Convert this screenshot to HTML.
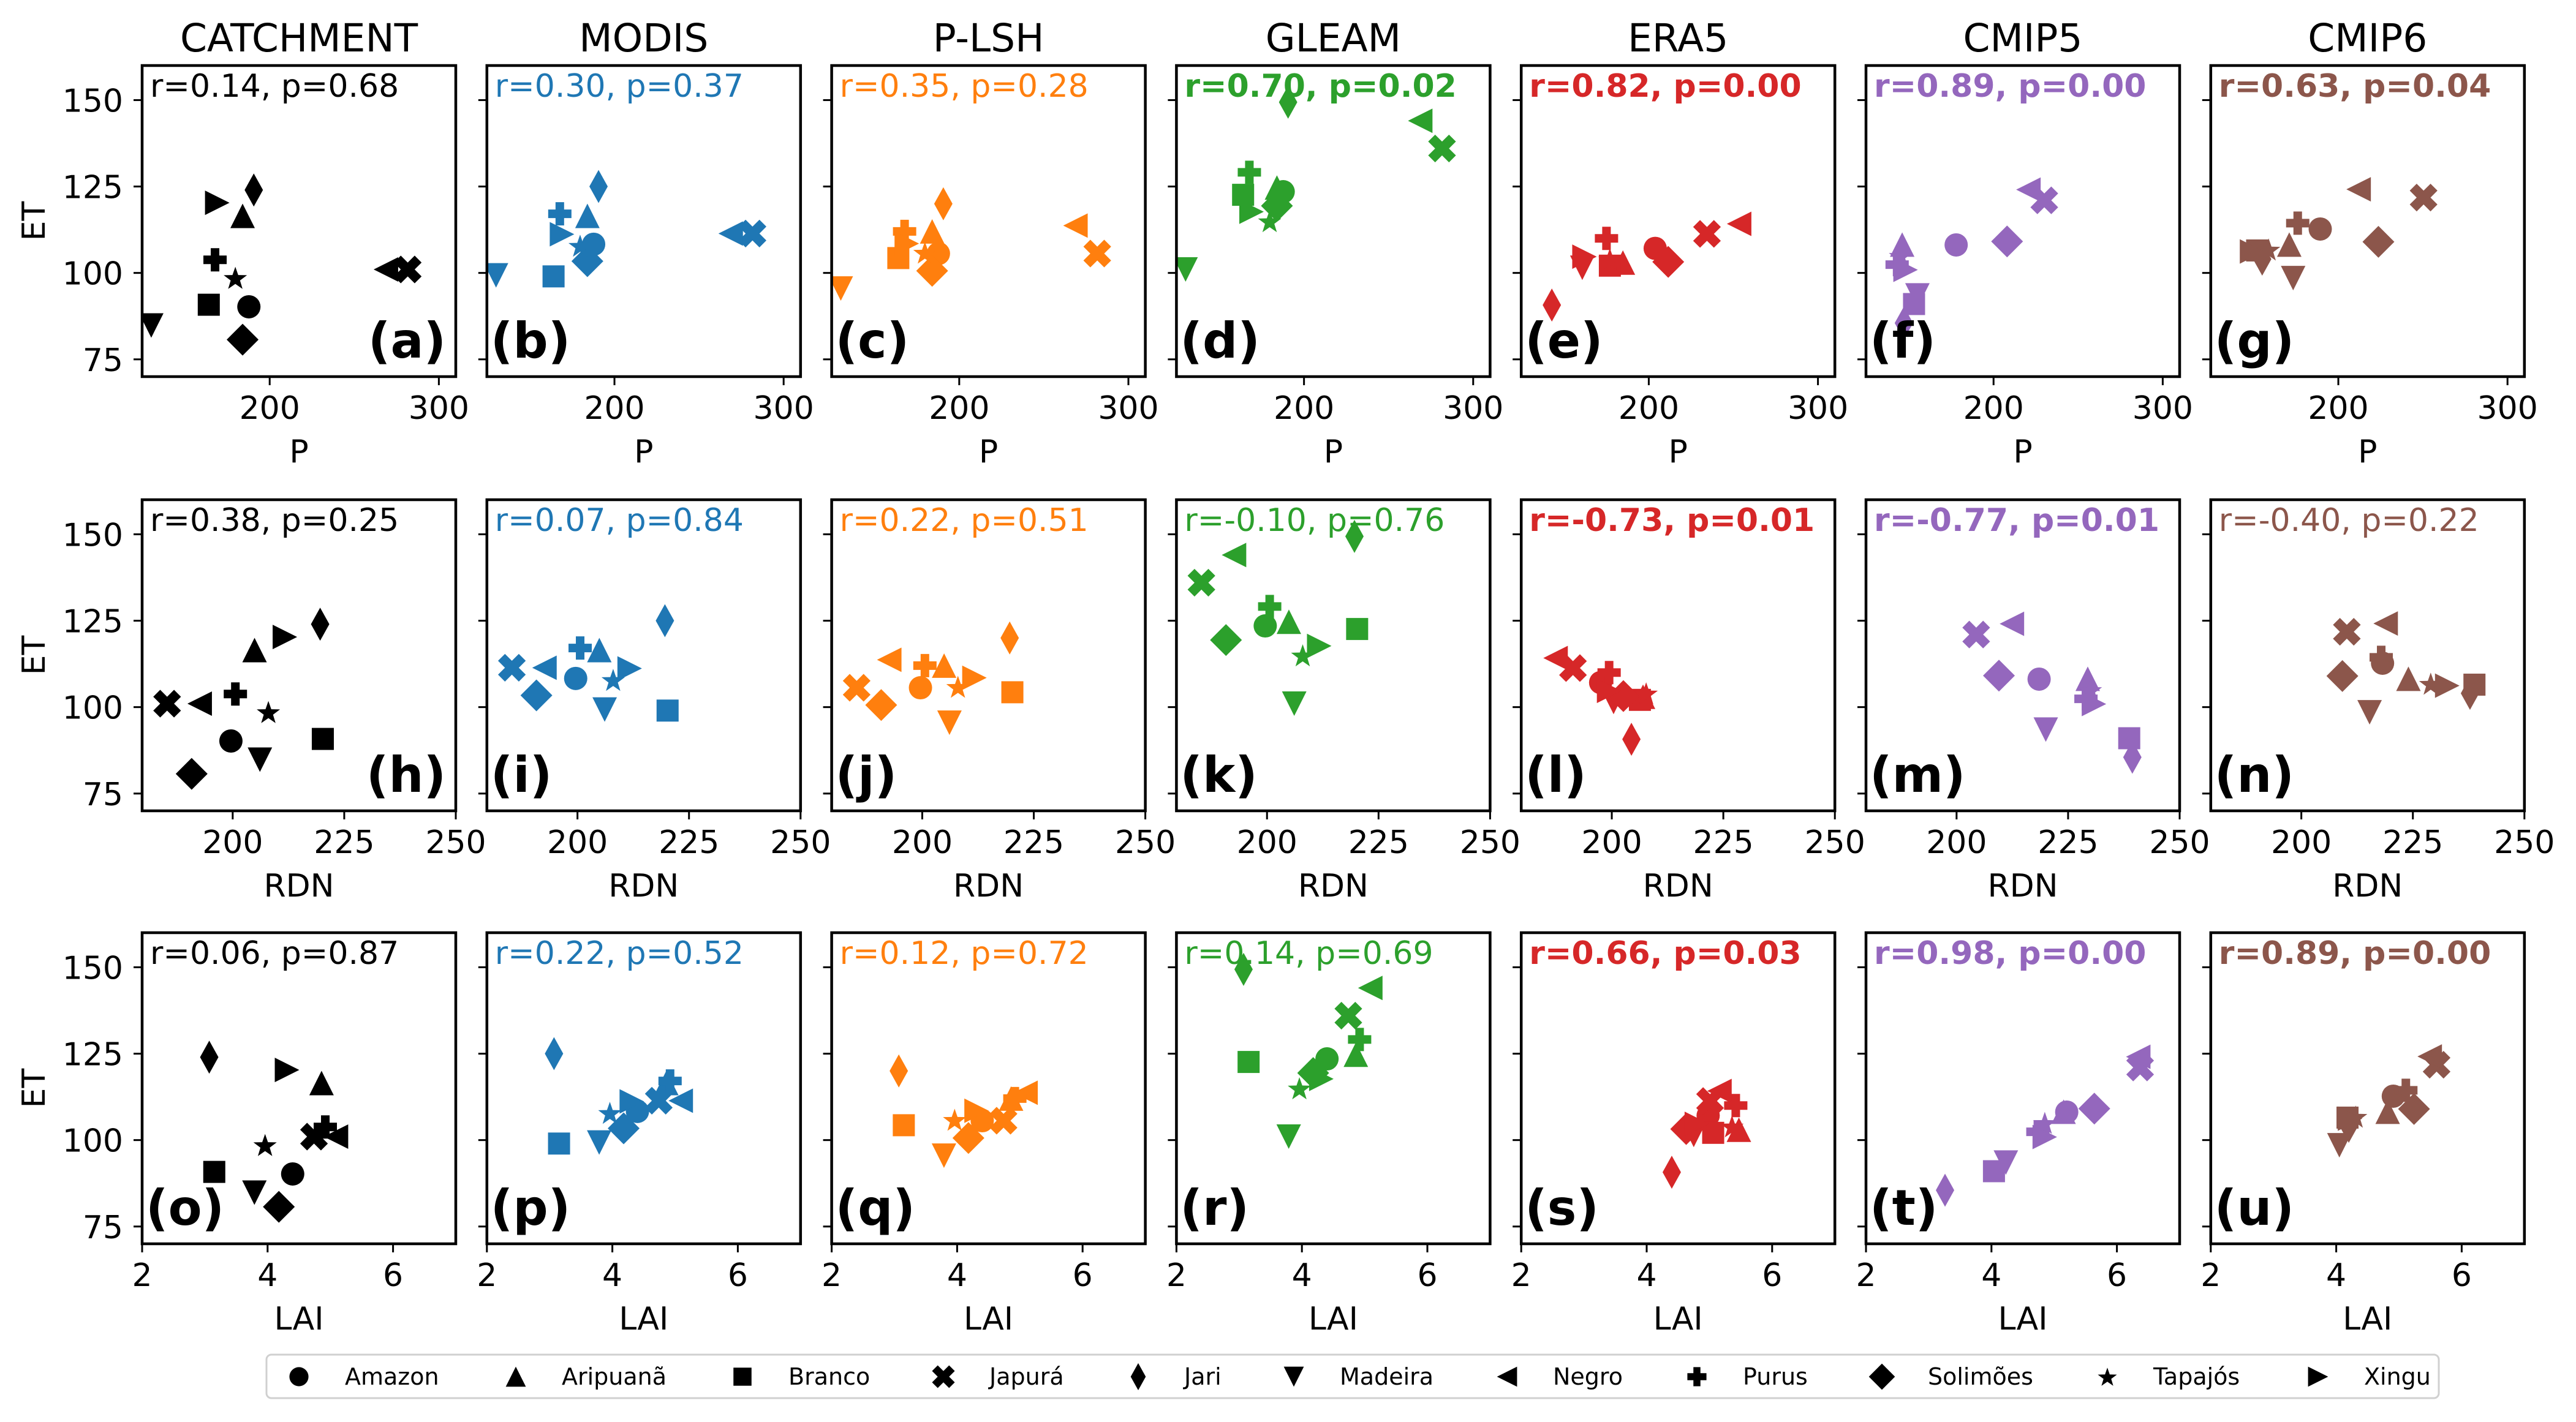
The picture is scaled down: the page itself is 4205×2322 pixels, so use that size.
<!DOCTYPE html>
<html><head><meta charset="utf-8"><style>
html,body{margin:0;padding:0;background:#fff;}
svg{display:block;font-family:"DejaVu Sans","Liberation Sans",sans-serif;}
</style></head><body>
<svg id="fig" xmlns="http://www.w3.org/2000/svg" width="4205" height="2322" viewBox="0 0 4205 2322">
<rect width="4205" height="2322" fill="#fff"/>
</svg>
<script>
// ---- data ----
const basins = ["Amazon","Aripuanã","Branco","Japurá","Jari","Madeira","Negro","Purus","Solimões","Tapajós","Xingu"];
const markers = ["o","^","s","X","d","v","<","P","D","*",">"];
const datasets = ["CATCHMENT","MODIS","P-LSH","GLEAM","ERA5","CMIP5","CMIP6"];
const colors = ["#000000","#1f77b4","#ff7f0e","#2ca02c","#d62728","#9467bd","#8c564b"];
// ET per dataset (per basin)
const etCatchment = [90.2,116.5,90.8,101,124,84.8,101,103.8,80.7,98.6,120.3];
const etModis     = [108.3,116.5,99,111.4,125,99.3,111.4,117.1,103.4,107.9,111.2];
const etPlsh      = [105.6,112,104.3,105.6,120,95.5,113.7,112,100.6,105.9,108.5];
const etGleam     = [123.5,124.7,122.6,136,149.4,101,144,129.1,119.4,115,117.7];
const etEra5      = [107.1,103,102.1,111.3,90.7,101.5,114.2,110,103.2,104,104.7];
const etCmip5     = [108.1,108.2,91,121,85.5,93.5,124.1,102.4,109.1,105,100.9];
const etCmip6     = [112.7,108.2,106.5,121.8,104,98.5,124.2,114.4,109,106.8,106.2];
// predictors: observational (shared by first four datasets)
const pObs   = [187.7,184,164,281.6,190.6,130,268.7,167.7,184,179.7,169];
const rdnObs = [199.6,204.9,220.2,185.3,219.6,206.1,192.6,200.6,190.8,208,211.7];
const laiObs = [4.40,4.86,3.15,4.74,3.07,3.79,5.09,4.92,4.18,3.96,4.31];
const pEra5   = [203.8,184.7,177,234.4,142.7,160.7,253.4,175,211.5,177,162];
const rdnEra5 = [197.5,207,206.3,191.3,204.4,200.4,187.4,199.4,202.6,207.7,199.4];
const laiEra5 = [4.98,5.47,5.06,5.01,4.40,4.75,5.16,5.42,4.63,5.36,4.80];
const pCmip5   = [177.9,146,153,230,147,155,220.6,143,208,145,148];
const rdnCmip5 = [218.5,229.4,238.7,204.4,239.4,220,212.4,229,209.5,230,230.8];
const laiCmip5 = [5.20,5.15,4.04,6.37,3.26,4.23,6.34,4.74,5.64,4.85,4.85];
const pCmip6   = [189.3,171,152,250.4,155,173.3,212,176,223.7,158.8,149];
const rdnCmip6 = [218.2,224,238.8,210.2,237.8,215.3,218.9,217.9,209.2,229,232.7];
const laiCmip6 = [4.91,4.82,4.18,5.60,4.20,4.05,5.49,5.11,5.24,4.31,4.22];
// statistic labels per row
const statsP   = ["r=0.14, p=0.68","r=0.30, p=0.37","r=0.35, p=0.28","r=0.70, p=0.02","r=0.82, p=0.00","r=0.89, p=0.00","r=0.63, p=0.04"];
const statsRdn = ["r=0.38, p=0.25","r=0.07, p=0.84","r=0.22, p=0.51","r=-0.10, p=0.76","r=-0.73, p=0.01","r=-0.77, p=0.01","r=-0.40, p=0.22"];
const statsLai = ["r=0.06, p=0.87","r=0.22, p=0.52","r=0.12, p=0.72","r=0.14, p=0.69","r=0.66, p=0.03","r=0.98, p=0.00","r=0.89, p=0.00"];
const rowLabels = ["P","RDN","LAI"];
const xTicksP = [200,300], xTicksRdn = [200,225,250], xTicksLai = [2,4,6];
const yTicks = [75,100,125,150];
const panelLetters = "abcdefghijklmnopqrstu";

// ---- layout ----
const NS="http://www.w3.org/2000/svg";
const svg=document.getElementById('fig');
function el(tag,attrs,parent){const e=document.createElementNS(NS,tag);for(const k in attrs)e.setAttribute(k,attrs[k]);(parent||svg).appendChild(e);return e;}
const L0=232, STEP=562.8, W=512, H=508, TOPS=[107,816,1523];
const xDom=[[124.6,310],[179.7,250],[2,7]], yDom=[70,160];
const etAll=[etCatchment,etModis,etPlsh,etGleam,etEra5,etCmip5,etCmip6];
const xAll=[[pObs,pObs,pObs,pObs,pEra5,pCmip5,pCmip6],[rdnObs,rdnObs,rdnObs,rdnObs,rdnEra5,rdnCmip5,rdnCmip6],[laiObs,laiObs,laiObs,laiObs,laiEra5,laiCmip5,laiCmip6]];
const stats=[statsP,statsRdn,statsLai];
const xTicks=[xTicksP,xTicksRdn,xTicksLai];

function markerShape(g,m,cx,cy,color,s){
  s=s||1;let e;
  const pts=a=>a.map(p=>(cx+p[0]*s)+','+(cy+p[1]*s)).join(' ');
  if(m==='o'){e=el('circle',{cx:cx,cy:cy,r:19*s,fill:color},g);}
  else if(m==='s'){e=el('rect',{x:cx-18*s,y:cy-18*s,width:36*s,height:36*s,fill:color},g);}
  else if(m==='^'){e=el('polygon',{points:pts([[0,-20],[-20,20],[20,20]]),fill:color},g);}
  else if(m==='v'){e=el('polygon',{points:pts([[0,20],[-20,-20],[20,-20]]),fill:color},g);}
  else if(m==='<'){e=el('polygon',{points:pts([[-20,0],[20,-20],[20,20]]),fill:color},g);}
  else if(m==='>'){e=el('polygon',{points:pts([[20,0],[-20,-20],[-20,20]]),fill:color},g);}
  else if(m==='d'){e=el('polygon',{points:pts([[0,-27],[15,0],[0,27],[-15,0]]),fill:color},g);}
  else if(m==='D'){e=el('polygon',{points:pts([[0,-26],[26,0],[0,26],[-26,0]]),fill:color},g);}
  else if(m==='P'){const a=19,w=7;e=el('polygon',{points:pts([[-w,-a],[w,-a],[w,-w],[a,-w],[a,w],[w,w],[w,a],[-w,a],[-w,w],[-a,w],[-a,-w],[-w,-w]]),fill:color},g);}
  else if(m==='X'){const a=24,w=8;e=el('polygon',{points:pts([[-w,-a],[w,-a],[w,-w],[a,-w],[a,w],[w,w],[w,a],[-w,a],[-w,w],[-a,w],[-a,-w],[-w,-w]]),fill:color,transform:`rotate(45 ${cx} ${cy})`},g);}
  else if(m==='*'){const p=[];for(let i=0;i<10;i++){const r=i%2?8:20;const t=-Math.PI/2+i*Math.PI/5;p.push([r*Math.cos(t),r*Math.sin(t)+2]);}e=el('polygon',{points:pts(p),fill:color},g);}
  return e;
}

// titles
datasets.forEach((d,c)=>{
  const t=el('text',{x:L0+c*STEP+W/2,y:84,'text-anchor':'middle','font-size':63},svg);
  t.textContent=d;
  
  
});

for(let r=0;r<3;r++){
  const top=TOPS[r], bot=top+H;
  const yl=el('text',{transform:`translate(73,${top+H/2}) rotate(-90)`,'text-anchor':'middle','font-size':52},svg);
  yl.textContent='ET';
  
  
  for(let c=0;c<7;c++){
    const left=L0+c*STEP;
    const xs=v=>left+(v-xDom[r][0])/(xDom[r][1]-xDom[r][0])*W;
    const ys=v=>bot-(v-yDom[0])/(yDom[1]-yDom[0])*H;
    const g=el('g',{},svg);
    
    
    const clip=el('clipPath',{id:'cp'+r+c},g);
    el('rect',{x:left,y:top,width:W,height:H},clip);
    const mg=el('g',{'clip-path':`url(#cp${r}${c})`},g);
    const xv=xAll[r][c], ev=etAll[c];
    for(let i=0;i<basins.length;i++){
      const m=markerShape(mg,markers[i],xs(xv[i]),ys(ev[i]),colors[c]);
      
      
    }
    xTicks[r].forEach(tv=>{
      const x=xs(tv);
      el('line',{x1:x,x2:x,y1:bot,y2:bot+14,stroke:'#000','stroke-width':3},g);
      const tl=el('text',{x:x,y:bot+69,'text-anchor':'middle','font-size':52},g);
      tl.textContent=tv;
      
      
    });
    yTicks.forEach(tv=>{
      const y=ys(tv);
      el('line',{x1:left-14,x2:left,y1:y,y2:y,stroke:'#000','stroke-width':3},g);
      if(c===0){
        const tl=el('text',{x:left-31,y:y+19,'text-anchor':'end','font-size':52},g);
        tl.textContent=tv;
        
        
      }
    });
    el('rect',{x:left,y:top,width:W,height:H,fill:'none',stroke:'#000','stroke-width':4.5},g);
    const xl=el('text',{x:left+W/2,y:bot+140,'text-anchor':'middle','font-size':52},g);
    xl.textContent=rowLabels[r];
    
    
    const txt=stats[r][c];
    const pv=parseFloat(txt.split('p=')[1]);
    const st=el('text',{x:left+13,y:top+51,'font-size':52,fill:colors[c],'font-weight':pv<0.05?'bold':'normal'},g);
    st.textContent=txt;
    
    
    const idx=r*7+c, letter=panelLetters[idx];
    const right=(idx===0||idx===7);
    const pl=el('text',{x:right?left+W-16:left+6,y:bot-31,'text-anchor':right?'end':'start','font-size':80,'font-weight':'bold'},g);
    pl.textContent='('+letter+')';
    
    
  }
}

// legend
const lg=el('g',{},svg);


el('rect',{x:435,y:2212,width:3546,height:71,rx:8,fill:'#fff',stroke:'#d0d0d0','stroke-width':3},lg);
const legMx=[488,842,1212,1540,1858,2112,2460,2770,3072,3440,3784];
basins.forEach((b,i)=>{
  const eg=el('g',{},lg);
  
  
  markerShape(eg,markers[i],legMx[i],2248,'#000',0.82);
  const t=el('text',{x:legMx[i]+75,y:2261,'font-size':38},eg);
  t.textContent=b;
});
</script>
</body></html>
